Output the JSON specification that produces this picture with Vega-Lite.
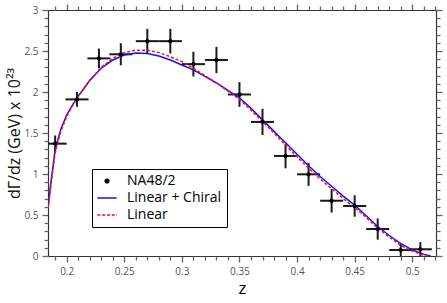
{
  "$schema": "https://vega.github.io/schema/vega-lite/v6.json",
  "width": 388,
  "height": 246,
  "autosize": {"type": "none"},
  "padding": {"left": 48, "top": 10, "right": 11, "bottom": 47},
  "background": "white",
  "config": {
    "view": {"stroke": null},
    "font": "Open Sans",
    "axis": {"grid": false, "labelFont": "Open Sans", "titleFont": "Open Sans", "tickColor": "#666", "tickWidth": 1.3, "domainColor": "#333", "domainWidth": 1.2, "labelColor": "#555", "labelFontSize": 10, "titleColor": "#111", "titleFontWeight": "normal"},
    "legend": {"orient": "none", "legendX": 44, "legendY": 159, "padding": 5, "strokeColor": "#000", "fillColor": "#fff", "symbolSize": 144, "symbolStrokeWidth": 1.5, "symbolOffset": 3, "labelFont": "Open Sans", "labelFontSize": 14, "labelColor": "#000", "labelOffset": 13, "rowPadding": 3}
  },
  "datasets": {
    "pts": [
      {"z": 0.19, "y": 1.37, "zlo": 0.18, "zhi": 0.2, "ylo": 1.27, "yhi": 1.47, "series": "NA48/2"},
      {"z": 0.209, "y": 1.91, "zlo": 0.199, "zhi": 0.219, "ylo": 1.82, "yhi": 2.0, "series": "NA48/2"},
      {"z": 0.228, "y": 2.41, "zlo": 0.218, "zhi": 0.238, "ylo": 2.29, "yhi": 2.53, "series": "NA48/2"},
      {"z": 0.247, "y": 2.46, "zlo": 0.237, "zhi": 0.257, "ylo": 2.325, "yhi": 2.595, "series": "NA48/2"},
      {"z": 0.27, "y": 2.62, "zlo": 0.26, "zhi": 0.28, "ylo": 2.47, "yhi": 2.77, "series": "NA48/2"},
      {"z": 0.29, "y": 2.62, "zlo": 0.28, "zhi": 0.3, "ylo": 2.47, "yhi": 2.77, "series": "NA48/2"},
      {"z": 0.31, "y": 2.34, "zlo": 0.3, "zhi": 0.32, "ylo": 2.19, "yhi": 2.49, "series": "NA48/2"},
      {"z": 0.33, "y": 2.39, "zlo": 0.32, "zhi": 0.34, "ylo": 2.23, "yhi": 2.55, "series": "NA48/2"},
      {"z": 0.35, "y": 1.97, "zlo": 0.34, "zhi": 0.36, "ylo": 1.82, "yhi": 2.12, "series": "NA48/2"},
      {"z": 0.37, "y": 1.635, "zlo": 0.36, "zhi": 0.38, "ylo": 1.475, "yhi": 1.795, "series": "NA48/2"},
      {"z": 0.39, "y": 1.22, "zlo": 0.38, "zhi": 0.4, "ylo": 1.07, "yhi": 1.37, "series": "NA48/2"},
      {"z": 0.41, "y": 0.996, "zlo": 0.4, "zhi": 0.42, "ylo": 0.856, "yhi": 1.136, "series": "NA48/2"},
      {"z": 0.43, "y": 0.674, "zlo": 0.42, "zhi": 0.44, "ylo": 0.53, "yhi": 0.818, "series": "NA48/2"},
      {"z": 0.45, "y": 0.61, "zlo": 0.44, "zhi": 0.46, "ylo": 0.48, "yhi": 0.74, "series": "NA48/2"},
      {"z": 0.47, "y": 0.329, "zlo": 0.46, "zhi": 0.48, "ylo": 0.2, "yhi": 0.458, "series": "NA48/2"},
      {"z": 0.49, "y": 0.073, "zlo": 0.48, "zhi": 0.5, "ylo": 0.0, "yhi": 0.146, "series": "NA48/2"},
      {"z": 0.507, "y": 0.082, "zlo": 0.497, "zhi": 0.517, "ylo": 0.0, "yhi": 0.17, "series": "NA48/2"}
    ],
    "blue": [
      {"z": 0.184, "v": 0.62}, {"z": 0.186, "v": 0.86}, {"z": 0.188, "v": 1.08}, {"z": 0.19, "v": 1.3},
      {"z": 0.195, "v": 1.55}, {"z": 0.2, "v": 1.72}, {"z": 0.205, "v": 1.84}, {"z": 0.21, "v": 1.95},
      {"z": 0.22, "v": 2.14}, {"z": 0.23, "v": 2.29}, {"z": 0.24, "v": 2.39}, {"z": 0.25, "v": 2.45},
      {"z": 0.26, "v": 2.475}, {"z": 0.27, "v": 2.47}, {"z": 0.28, "v": 2.44}, {"z": 0.29, "v": 2.39},
      {"z": 0.3, "v": 2.33}, {"z": 0.31, "v": 2.27}, {"z": 0.32, "v": 2.19}, {"z": 0.33, "v": 2.11},
      {"z": 0.34, "v": 2.02}, {"z": 0.35, "v": 1.93}, {"z": 0.36, "v": 1.8}, {"z": 0.37, "v": 1.66},
      {"z": 0.38, "v": 1.52}, {"z": 0.39, "v": 1.38}, {"z": 0.4, "v": 1.24}, {"z": 0.41, "v": 1.1},
      {"z": 0.42, "v": 0.97}, {"z": 0.43, "v": 0.85}, {"z": 0.44, "v": 0.73}, {"z": 0.45, "v": 0.62},
      {"z": 0.46, "v": 0.49}, {"z": 0.47, "v": 0.36}, {"z": 0.48, "v": 0.25}, {"z": 0.49, "v": 0.15},
      {"z": 0.5, "v": 0.075}, {"z": 0.51, "v": 0.02}, {"z": 0.516, "v": 0.0}
    ],
    "red": [
      {"z": 0.184, "v": 0.58}, {"z": 0.186, "v": 0.82}, {"z": 0.188, "v": 1.04}, {"z": 0.19, "v": 1.26},
      {"z": 0.195, "v": 1.52}, {"z": 0.2, "v": 1.7}, {"z": 0.205, "v": 1.83}, {"z": 0.21, "v": 1.94},
      {"z": 0.22, "v": 2.14}, {"z": 0.23, "v": 2.3}, {"z": 0.24, "v": 2.41}, {"z": 0.25, "v": 2.48},
      {"z": 0.26, "v": 2.51}, {"z": 0.27, "v": 2.51}, {"z": 0.28, "v": 2.48}, {"z": 0.29, "v": 2.43},
      {"z": 0.3, "v": 2.37}, {"z": 0.31, "v": 2.29}, {"z": 0.32, "v": 2.2}, {"z": 0.33, "v": 2.11},
      {"z": 0.34, "v": 2.01}, {"z": 0.35, "v": 1.91}, {"z": 0.36, "v": 1.78}, {"z": 0.37, "v": 1.64},
      {"z": 0.38, "v": 1.5}, {"z": 0.39, "v": 1.35}, {"z": 0.4, "v": 1.21}, {"z": 0.41, "v": 1.07},
      {"z": 0.42, "v": 0.94}, {"z": 0.43, "v": 0.82}, {"z": 0.44, "v": 0.7}, {"z": 0.45, "v": 0.59},
      {"z": 0.46, "v": 0.47}, {"z": 0.47, "v": 0.34}, {"z": 0.48, "v": 0.23}, {"z": 0.49, "v": 0.13},
      {"z": 0.5, "v": 0.06}, {"z": 0.51, "v": 0.01}, {"z": 0.514, "v": 0.0}
    ]
  },
  "resolve": {"axis": {"x": "independent", "y": "independent"}},
  "layer": [
    {
      "data": {"name": "pts"},
      "mark": {"type": "rule", "color": "#1a1a1a", "strokeWidth": 2, "clip": true},
      "encoding": {
        "x": {"field": "zlo", "type": "quantitative", "scale": {"domain": [0.1838, 0.5206], "nice": false, "zero": false},
          "axis": {"orient": "bottom", "values": [0.2, 0.25, 0.3, 0.35, 0.4, 0.45, 0.5], "format": "~g", "tickSize": 6, "labelPadding": 4, "title": "z", "titleFontSize": 17, "titlePadding": 4, "titleColor": "#000"}},
        "x2": {"field": "zhi"},
        "y": {"field": "y", "type": "quantitative", "scale": {"domain": [0, 3], "nice": false, "zero": false},
          "axis": {"orient": "left", "values": [0, 0.5, 1, 1.5, 2, 2.5, 3], "format": "~g", "tickSize": 6, "labelPadding": 4, "title": "dΓ/dz (GeV) x 10²³", "titleFontSize": 16, "titlePadding": 1}}
      }
    },
    {
      "data": {"name": "pts"},
      "mark": {"type": "rule", "color": "#1a1a1a", "strokeWidth": 2, "clip": true},
      "encoding": {
        "x": {"field": "z", "type": "quantitative",
          "axis": {"orient": "bottom", "values": [0.19, 0.21, 0.22, 0.23, 0.24, 0.26, 0.27, 0.28, 0.29, 0.31, 0.32, 0.33, 0.34, 0.36, 0.37, 0.38, 0.39, 0.41, 0.42, 0.43, 0.44, 0.46, 0.47, 0.48, 0.49, 0.51, 0.52], "tickSize": 4, "labels": false, "domain": false, "title": null}},
        "y": {"field": "ylo", "type": "quantitative",
          "axis": {"orient": "left", "values": [0.1, 0.2, 0.3, 0.4, 0.6, 0.7, 0.8, 0.9, 1.1, 1.2, 1.3, 1.4, 1.6, 1.7, 1.8, 1.9, 2.1, 2.2, 2.3, 2.4, 2.6, 2.7, 2.8, 2.9], "tickSize": 4, "labels": false, "domain": false, "title": null}},
        "y2": {"field": "yhi"}
      }
    },
    {
      "data": {"name": "blue"},
      "mark": {"type": "line", "color": "#1010ff", "strokeWidth": 1.5, "clip": true},
      "encoding": {
        "x": {"field": "z", "type": "quantitative",
          "axis": {"orient": "top", "values": [0.2, 0.25, 0.3, 0.35, 0.4, 0.45, 0.5], "tickSize": 6, "labels": false, "title": null}},
        "y": {"field": "v", "type": "quantitative",
          "axis": {"orient": "right", "values": [0, 0.5, 1, 1.5, 2, 2.5, 3], "tickSize": 6, "labels": false, "title": null}}
      }
    },
    {
      "data": {"name": "red"},
      "mark": {"type": "line", "color": "#ff1010", "strokeWidth": 1.5, "strokeDash": [3, 2], "clip": true},
      "encoding": {
        "x": {"field": "z", "type": "quantitative",
          "axis": {"orient": "top", "values": [0.19, 0.21, 0.22, 0.23, 0.24, 0.26, 0.27, 0.28, 0.29, 0.31, 0.32, 0.33, 0.34, 0.36, 0.37, 0.38, 0.39, 0.41, 0.42, 0.43, 0.44, 0.46, 0.47, 0.48, 0.49, 0.51, 0.52], "tickSize": 4, "labels": false, "domain": false, "title": null}},
        "y": {"field": "v", "type": "quantitative",
          "axis": {"orient": "right", "values": [0.1, 0.2, 0.3, 0.4, 0.6, 0.7, 0.8, 0.9, 1.1, 1.2, 1.3, 1.4, 1.6, 1.7, 1.8, 1.9, 2.1, 2.2, 2.3, 2.4, 2.6, 2.7, 2.8, 2.9], "tickSize": 4, "labels": false, "domain": false, "title": null}}
      }
    },
    {
      "data": {"name": "pts"},
      "mark": {"type": "point", "filled": true, "opacity": 1, "size": 144, "strokeWidth": 1},
      "encoding": {
        "x": {"field": "z", "type": "quantitative", "axis": null},
        "y": {"field": "y", "type": "quantitative", "axis": null},
        "fill": {"field": "series", "type": "nominal", "title": null,
          "scale": {"domain": ["NA48/2", "Linear + Chiral", "Linear"], "range": ["#000000", "#1010ff", "#ff1010"]},
          "legend": {"title": null, "symbolStrokeWidth": 1.5}},
        "stroke": {"field": "series", "type": "nominal", "title": null,
          "scale": {"domain": ["NA48/2", "Linear + Chiral", "Linear"], "range": ["#000000", "#1010ff", "#ff1010"]},
          "legend": {"title": null, "symbolStrokeWidth": 1.5}},
        "shape": {"field": "series", "type": "nominal", "title": null,
          "scale": {"domain": ["NA48/2", "Linear + Chiral", "Linear"], "range": ["M0.3,0A0.3,0.3 0 1,1 -0.3,0A0.3,0.3 0 1,1 0.3,0Z", "M-1.6,0H1.6", "M-1.6,0H-1.1M-0.8,0H-0.3M0,0H0.5M0.8,0H1.3M1.5,0H1.6"]},
          "legend": {"title": null, "symbolStrokeWidth": 1.5}}
      }
    }
  ]
}
